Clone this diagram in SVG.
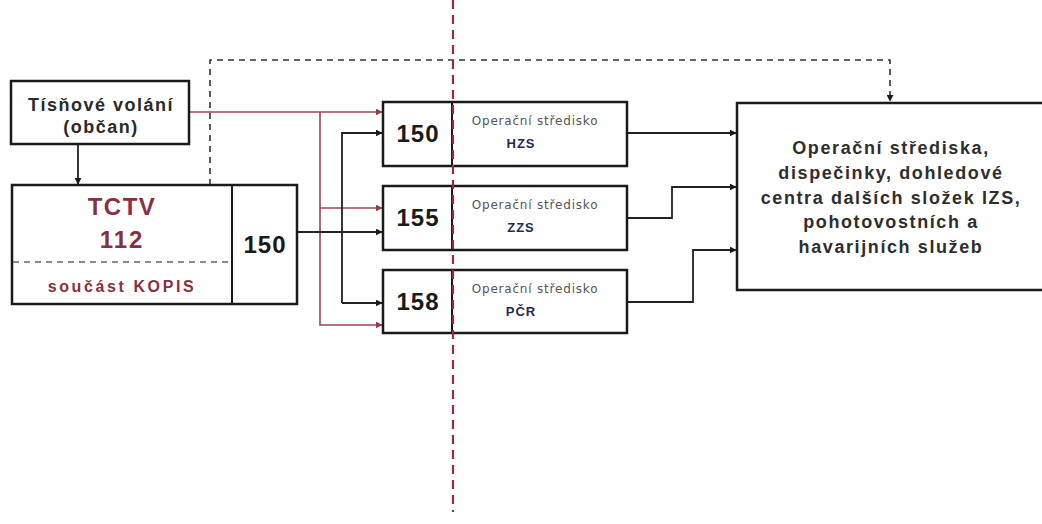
<svg xmlns="http://www.w3.org/2000/svg" width="1042" height="524" viewBox="0 0 1042 524">
<style>
.box{fill:#fff;stroke:#1a1a1a;stroke-width:2.5}
.div{stroke:#1a1a1a;stroke-width:2}
.blk{fill:none;stroke:#222;stroke-width:1.8}
.red{fill:none;stroke:#9a4656;stroke-width:1.6}
.t{font-family:"Liberation Sans",Arial,sans-serif;font-weight:bold;text-anchor:middle}
.num{font-size:24px;fill:#1a1a1a;letter-spacing:1px}
.small{font-family:"DejaVu Sans",Verdana,sans-serif;font-size:12px;fill:#555;text-anchor:middle;letter-spacing:0.8px}
.code{font-size:13px;fill:#1e2a5a;letter-spacing:1px}
.big{font-size:18px;fill:#2e2e2e;letter-spacing:1.6px}
.dk{fill:#8a2f40}
</style>
<defs>
<marker id="ab" viewBox="0 0 10 10" refX="9" refY="5" markerWidth="7" markerHeight="7" markerUnits="userSpaceOnUse" orient="auto"><path d="M0,0L10,5L0,10z" fill="#1a1a1a"/></marker>
<marker id="ar" viewBox="0 0 10 10" refX="9" refY="5" markerWidth="7" markerHeight="7" markerUnits="userSpaceOnUse" orient="auto"><path d="M0,0L10,5L0,10z" fill="#9a3a4c"/></marker>
</defs>
<rect width="1042" height="524" fill="#fff"/>

<g id="connectors">
<path class="red" d="M189,112H382" marker-end="url(#ar)"/>
<path class="red" d="M320,112V325H382" marker-end="url(#ar)"/>
<path class="red" d="M320,208H382" marker-end="url(#ar)"/>
<path class="blk" d="M297,232H382" marker-end="url(#ab)"/>
<path class="blk" d="M342,303V133H382" marker-end="url(#ab)"/>
<path class="blk" d="M342,303H382" marker-end="url(#ab)"/>
<path class="blk" d="M78,144V184" marker-end="url(#ab)"/>
<path class="blk" d="M627,133H736" marker-end="url(#ab)"/>
<path class="blk" d="M627,218H672V187H736" marker-end="url(#ab)"/>
<path class="blk" d="M627,302H693V250H736" marker-end="url(#ab)"/>
<path d="M210,185V60H890V101" fill="none" stroke="#333" stroke-width="1.6" stroke-dasharray="6,5" marker-end="url(#ab)"/>
</g>

<g id="tisnove">
<rect class="box" x="11" y="81" width="178" height="63"/>
<text class="t" x="101" y="111" font-size="18" letter-spacing="1.5" fill="#2a2a2a">Tísňové volání</text>
<text class="t" x="101" y="133" font-size="18" letter-spacing="1.5" fill="#2a2a2a">(občan)</text>
</g>

<g id="tctv">
<rect class="box" x="12" y="185" width="285" height="119"/>
<line class="div" x1="232" y1="185" x2="232" y2="304"/>
<line x1="13" y1="262" x2="232" y2="262" stroke="#666" stroke-width="1.6" stroke-dasharray="6,5"/>
<text class="t dk" x="122" y="215" font-size="24" letter-spacing="1.5">TCTV</text>
<text class="t dk" x="122" y="248" font-size="24" letter-spacing="2">112</text>
<text class="t dk" x="122" y="292" font-size="16" letter-spacing="2.6">součást KOPIS</text>
<text class="t num" x="265" y="253">150</text>
</g>

<g id="hzs">
<rect class="box" x="383" y="102" width="244" height="64"/>
<line class="div" x1="452" y1="102" x2="452" y2="166"/>
<text class="t num" x="418" y="142">150</text>
<text class="small" x="535" y="125">Operační středisko</text>
<text class="t code" x="521" y="148">HZS</text>
</g>

<g id="zzs">
<rect class="box" x="383" y="186" width="244" height="64"/>
<line class="div" x1="452" y1="186" x2="452" y2="250"/>
<text class="t num" x="418" y="226">155</text>
<text class="small" x="535" y="209">Operační středisko</text>
<text class="t code" x="521" y="232">ZZS</text>
</g>

<g id="pcr">
<rect class="box" x="383" y="270" width="244" height="63"/>
<line class="div" x1="452" y1="270" x2="452" y2="333"/>
<text class="t num" x="418" y="310">158</text>
<text class="small" x="535" y="293">Operační středisko</text>
<text class="t code" x="521" y="316">PČR</text>
</g>

<g id="stred">
<path d="M1050,103H737V290H1050" fill="#fff" stroke="#1a1a1a" stroke-width="2.5"/>
<text class="t big" x="891" y="154">Operační střediska,</text>
<text class="t big" x="891" y="179">dispečinky, dohledové</text>
<text class="t big" x="891" y="204">centra dalších složek IZS,</text>
<text class="t big" x="891" y="228">pohotovostních a</text>
<text class="t big" x="891" y="253">havarijních služeb</text>
</g>

<g id="hranice">
<line x1="453" y1="0" x2="453" y2="512" stroke="#9a2a40" stroke-width="2.2" stroke-dasharray="9,6"/>
</g>
</svg>
